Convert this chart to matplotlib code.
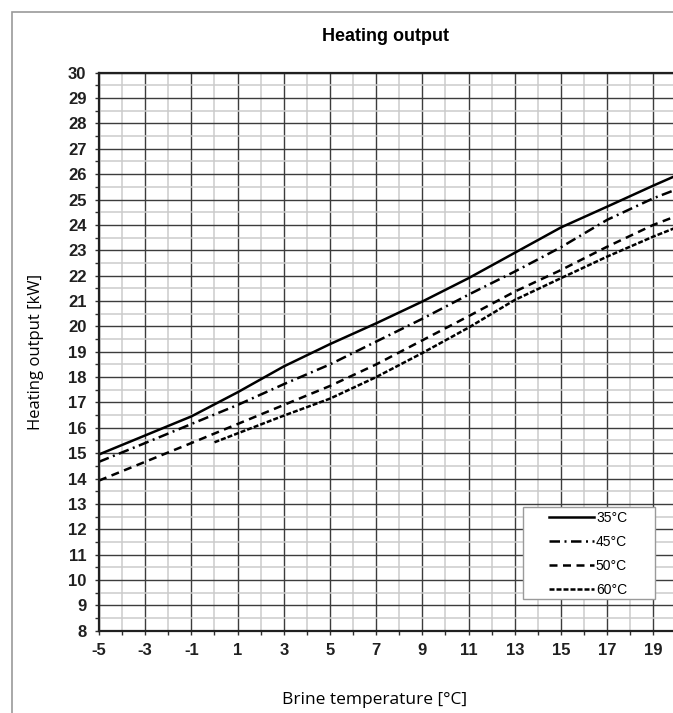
import matplotlib.pyplot as plt
from matplotlib.patches import Rectangle
from matplotlib.ticker import MultipleLocator

# Heizleistung in Abhaengigkeit der Soletemperatur, je Vorlauftemperatur

brine_temp = [-5, -3, -1, 1, 3, 5, 7, 9, 11, 13, 15, 17, 19, 20]
output_35 = [14.95, 15.7, 16.45, 17.4, 18.42, 19.3, 20.12, 20.98, 21.9, 22.9, 23.9, 24.72, 25.55, 25.95]
output_45 = [14.66, 15.4, 16.15, 16.9, 17.72, 18.5, 19.4, 20.3, 21.25, 22.16, 23.12, 24.2, 25.05, 25.4]
output_50 = [13.92, 14.66, 15.4, 16.15, 16.9, 17.65, 18.5, 19.45, 20.4, 21.37, 22.22, 23.14, 24.0, 24.35]

brine_temp_60 = [0, 1, 3, 5, 7, 9, 11, 13, 15, 17, 19, 20]
output_60 = [15.43, 15.78, 16.48, 17.15, 18.0, 18.95, 19.95, 21.04, 21.9, 22.75, 23.54, 23.9]

legend_labels = ['35°C', '45°C', '50°C', '60°C']

plt.rcParams['axes.unicode_minus'] = False
NARROW = ['Liberation Sans Narrow', 'Liberation Sans', 'DejaVu Sans']

fig = plt.figure(figsize=(6.73, 7.13), dpi=100)
ax = fig.add_axes([0.1471, 0.1154, 0.858, 0.7826])

# Rahmen um die Grafik
fig.patches.append(Rectangle((12 / 673, -0.1), 1.2, 1.1 - 12 / 713, transform=fig.transFigure,
                             fill=False, edgecolor='#9a9a9a', linewidth=1.2))

lw = 1.8
ax.plot(brine_temp, output_35, color='black', lw=lw, label=legend_labels[0])
ax.plot(brine_temp, output_45, color='black', lw=lw, dashes=(4.2, 1.8, 0.8, 1.8), label=legend_labels[1])
ax.plot(brine_temp, output_50, color='black', lw=lw, dashes=(3.2, 2.2), label=legend_labels[2])
ax.plot(brine_temp_60, output_60, color='black', lw=lw, dashes=(2.0, 0.8), label=legend_labels[3])

ax.set_xlim(-5, 20)
ax.set_ylim(8, 30)
ax.xaxis.set_minor_locator(MultipleLocator(1))
ax.set_xticks(range(-5, 20, 2))
ax.yaxis.set_major_locator(MultipleLocator(1))
ax.yaxis.set_minor_locator(MultipleLocator(0.5))

ax.grid(which='minor', color='#cbcbcb', linewidth=1.1)
ax.grid(which='major', color='#3c3c3c', linewidth=1.0)
ax.set_axisbelow(True)

for side in ['left', 'bottom', 'top']:
    ax.spines[side].set_linewidth(1.6)
    ax.spines[side].set_color('#202020')
ax.spines['right'].set_visible(False)

ax.tick_params(which='both', direction='out', length=3, width=1, color='#303030')
ax.tick_params(axis='x', which='minor', labelbottom=False)
ax.tick_params(axis='both', which='major', pad=6, labelsize=12)
for lab in ax.get_xticklabels() + ax.get_yticklabels():
    lab.set_family(NARROW)
    lab.set_weight('bold')
    lab.set_color('#202020')

ax.text(0.497, 1.0645, 'Heating output', transform=ax.transAxes, ha='center', va='center',
        fontsize=13, fontweight='bold', family=NARROW)
ax.set_xlabel('Brine temperature [°C]', fontsize=12.5, family='Open Sans')
ax.xaxis.set_label_coords(0.478, -0.11)
ax.set_ylabel('Heating output [kW]', fontsize=12, family='Open Sans')
ax.yaxis.set_label_coords(-0.095, 0.5)

# Legendenkasten
ax.add_patch(Rectangle((13.34, 9.25), 5.73, 3.62, facecolor='white', edgecolor='#9a9a9a',
                       linewidth=1.0, zorder=3))
leg = ax.legend(loc='upper left', bbox_to_anchor=(14.5, 12.72), bbox_transform=ax.transData,
                frameon=False, borderaxespad=0, borderpad=0, handlelength=3.2,
                handletextpad=0.15, labelspacing=0.72, prop={'family': NARROW, 'size': 10})
leg.set_zorder(4)

fig.savefig('out.png', dpi=100)
